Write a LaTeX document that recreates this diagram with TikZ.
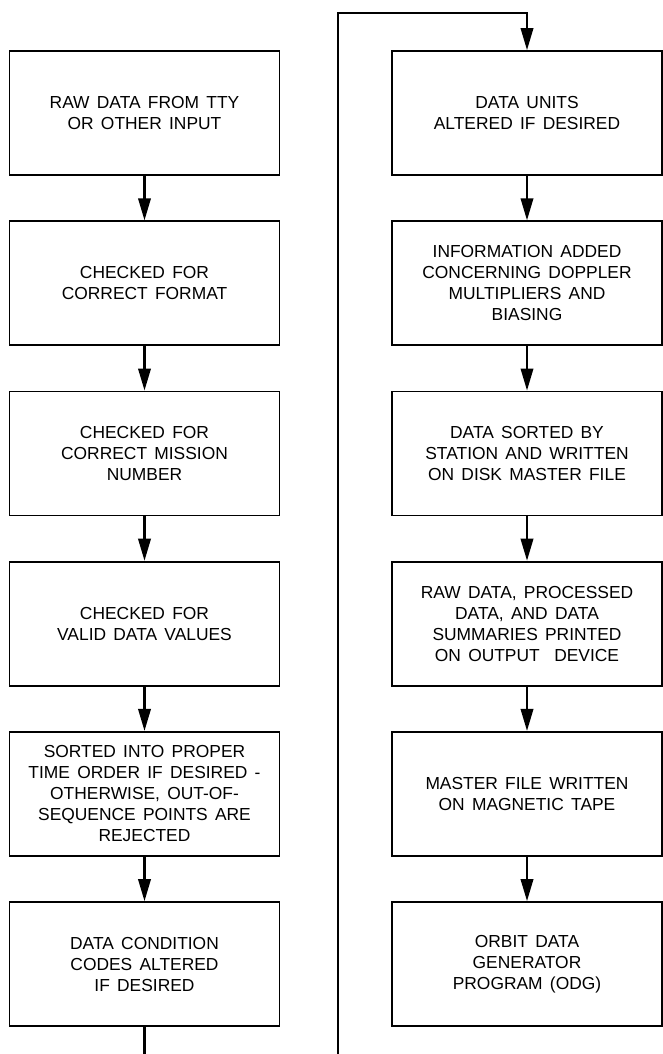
\documentclass[tikz,border=0pt]{standalone}
\usepackage{fontspec}
\setmainfont{Liberation Sans}[WordSpace=1.5]
\usetikzlibrary{positioning,arrows.meta}

\begin{document}
\begin{tikzpicture}[x=1pt, y=-1pt,
   every node/.style={draw, line width=1.8pt, minimum width=270pt, minimum height=124pt,
                      align=center, inner sep=2pt, font=\fontsize{17.4pt}{21pt}\selectfont},
   flow/.style={line width=2.1pt, -{Triangle[length=22pt,width=12.5pt]}},
   node distance=44.4pt]

\useasboundingbox (0,0) rectangle (663,1054);
\clip (0,0) rectangle (663,1054);

\node (raw) at (144.5,113) {RAW DATA FROM TTY\\OR OTHER INPUT};
\node[below=of raw] (format) {CHECKED FOR\\CORRECT FORMAT};
\node[below=of format] (mission) {CHECKED FOR\\CORRECT MISSION\\NUMBER};
\node[below=of mission] (values) {CHECKED FOR\\VALID DATA VALUES};
\node[below=of values] (sorted) {SORTED INTO PROPER\\TIME ORDER IF DESIRED -\\OTHERWISE, OUT-OF-\\SEQUENCE POINTS ARE\\REJECTED};
\node[below=of sorted] (codes) {DATA CONDITION\\CODES ALTERED\\IF DESIRED};

\node (units) at (527,113) {DATA UNITS\\ALTERED IF DESIRED};
\node[below=of units] (doppler) {INFORMATION ADDED\\CONCERNING DOPPLER\\MULTIPLIERS AND\\BIASING};
\node[below=of doppler] (disk) {DATA SORTED BY\\STATION AND WRITTEN\\ON DISK MASTER FILE};
\node[below=of disk] (printed) {RAW DATA, PROCESSED\\DATA, AND DATA\\SUMMARIES PRINTED\\ON OUTPUT\ \ DEVICE};
\node[below=of printed] (tape) {MASTER FILE WRITTEN\\ON MAGNETIC TAPE};
\node[below=of tape] (odg) {ORBIT DATA\\GENERATOR\\PROGRAM (ODG)};

\coordinate (turn) at (338,13);

\draw[flow] (raw) -- (format);
\draw[flow] (format) -- (mission);
\draw[flow] (mission) -- (values);
\draw[flow] (values) -- (sorted);
\draw[flow] (sorted) -- (codes);
\draw[flow] (codes.south) -- ++(0,60) -| (turn) -| (units.north);
\draw[flow] (units) -- (doppler);
\draw[flow] (doppler) -- (disk);
\draw[flow] (disk) -- (printed);
\draw[flow] (printed) -- (tape);
\draw[flow] (tape) -- (odg);

\end{tikzpicture}
\end{document}
